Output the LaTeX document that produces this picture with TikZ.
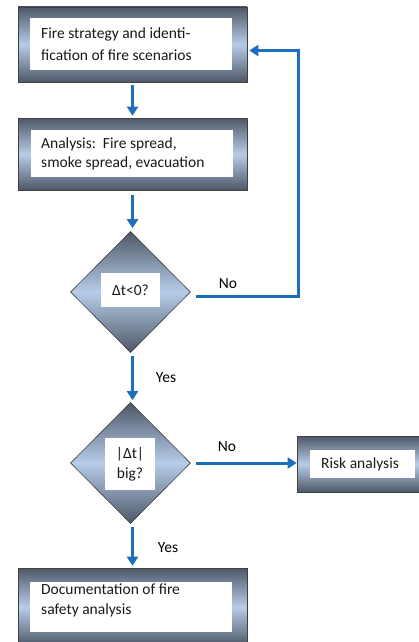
\documentclass[tikz,border=0pt]{standalone}
\usepackage{fontspec}
\setmainfont{Carlito}
\usetikzlibrary{shapes.geometric,arrows.meta,calc}
\definecolor{framedark}{RGB}{78,88,104}
\definecolor{framelight}{RGB}{182,204,232}
\definecolor{arrowblue}{RGB}{30,110,190}
\tikzset{
  framebox/.style={draw=black!75,line width=0.6pt,rectangle,inner sep=0pt,
    top color=framedark,bottom color=framedark,middle color=framelight},
  whitebox/.style={fill=white,rectangle,inner sep=0pt,align=left,
    font=\fontsize{15.5}{22}\selectfont,text=black!90},
  decision/.style={diamond,draw=black!75,line width=0.6pt,inner sep=0pt,
    minimum width=120pt,minimum height=121pt,
    top color=framedark,bottom color=framedark,middle color=framelight},
  flow/.style={draw=arrowblue,line width=3pt,
    -{Triangle[width=11pt,length=9pt]}},
  lbl/.style={font=\fontsize{15.5}{18}\selectfont,text=black}
}
\begin{document}
\begin{tikzpicture}[x=1pt,y=-1pt]
\useasboundingbox (0,0) rectangle (418,642);
% box 1
\node[framebox,minimum width=229pt,minimum height=75pt] (frame1) at (132.5,44.5) {};
\node[whitebox,minimum width=202pt,minimum height=52pt] (box1) at (131,44) {};
\node[whitebox,anchor=west] (txt1) at (41,44.5) {Fire strategy and identi-\\fication of fire scenarios};
% box 2
\node[framebox,minimum width=229pt,minimum height=72pt] (frame2) at (132.5,154) {};
\node[whitebox,minimum width=202pt,minimum height=47pt] (box2) at (131.5,153.5) {};
\node[whitebox,anchor=west,font=\fontsize{15.5}{19}\selectfont] (txt2) at (41,154) {Analysis:\ \ Fire spread,\\smoke spread, evacuation};
% decision 1
\node[decision] (d1) at (130.5,292) {};
\node[whitebox,minimum width=59pt,minimum height=34pt,align=center] (dt1) at (130.5,290) {Δt<0?};
% decision 2
\node[decision] (d2) at (130.5,463) {};
\node[whitebox,minimum width=50pt,minimum height=52pt,align=center,font=\fontsize{15.5}{20}\selectfont] (dt2) at (130,464) {|Δt|\\big?};
% risk
\node[framebox,minimum width=126pt,minimum height=56pt] (frame4) at (360,464) {};
\node[whitebox,minimum width=105pt,minimum height=28pt] (box4) at (362.5,464) {};
\node[whitebox,anchor=west] (txt4) at (321,464) {Risk analysis};
% box 5
\node[framebox,minimum width=229pt,minimum height=78pt] (frame5) at (132.5,607) {};
\node[whitebox,minimum width=202pt,minimum height=50pt] (box5) at (131,607) {};
\node[whitebox,anchor=west,font=\fontsize{15.5}{20}\selectfont] (txt5) at (41,600.5) {Documentation of fire\\safety analysis};
% connectors
\draw[flow,shorten <=3pt,shorten >=2pt] (frame1.south) -- (frame2.north);
\draw[flow,shorten <=5pt,shorten >=3pt] (frame2.south) -- (frame2.south |- d1.north);
\coordinate (loop) at (298,296);
\draw[flow,shorten <=5pt,shorten >=2pt] (d1.east |- loop) -- (loop) |- ($(frame1.east)+(0,6)$);
\draw[flow,shorten <=3pt,shorten >=2pt] (frame2.south |- d1.south) -- (frame2.south |- d2.north);
\draw[flow,shorten <=5pt,shorten >=0pt] (d2.east) -- (d2.east -| frame4.west);
\draw[flow,shorten <=3pt,shorten >=2pt] (frame2.south |- d2.south) -- (frame5.north);
% labels
\node[lbl] (no1) at (228,284) {No};
\node[lbl] (yes1) at (166,378) {Yes};
\node[lbl] (no2) at (227,447) {No};
\node[lbl] (yes2) at (168,548) {Yes};
\end{tikzpicture}
\end{document}
